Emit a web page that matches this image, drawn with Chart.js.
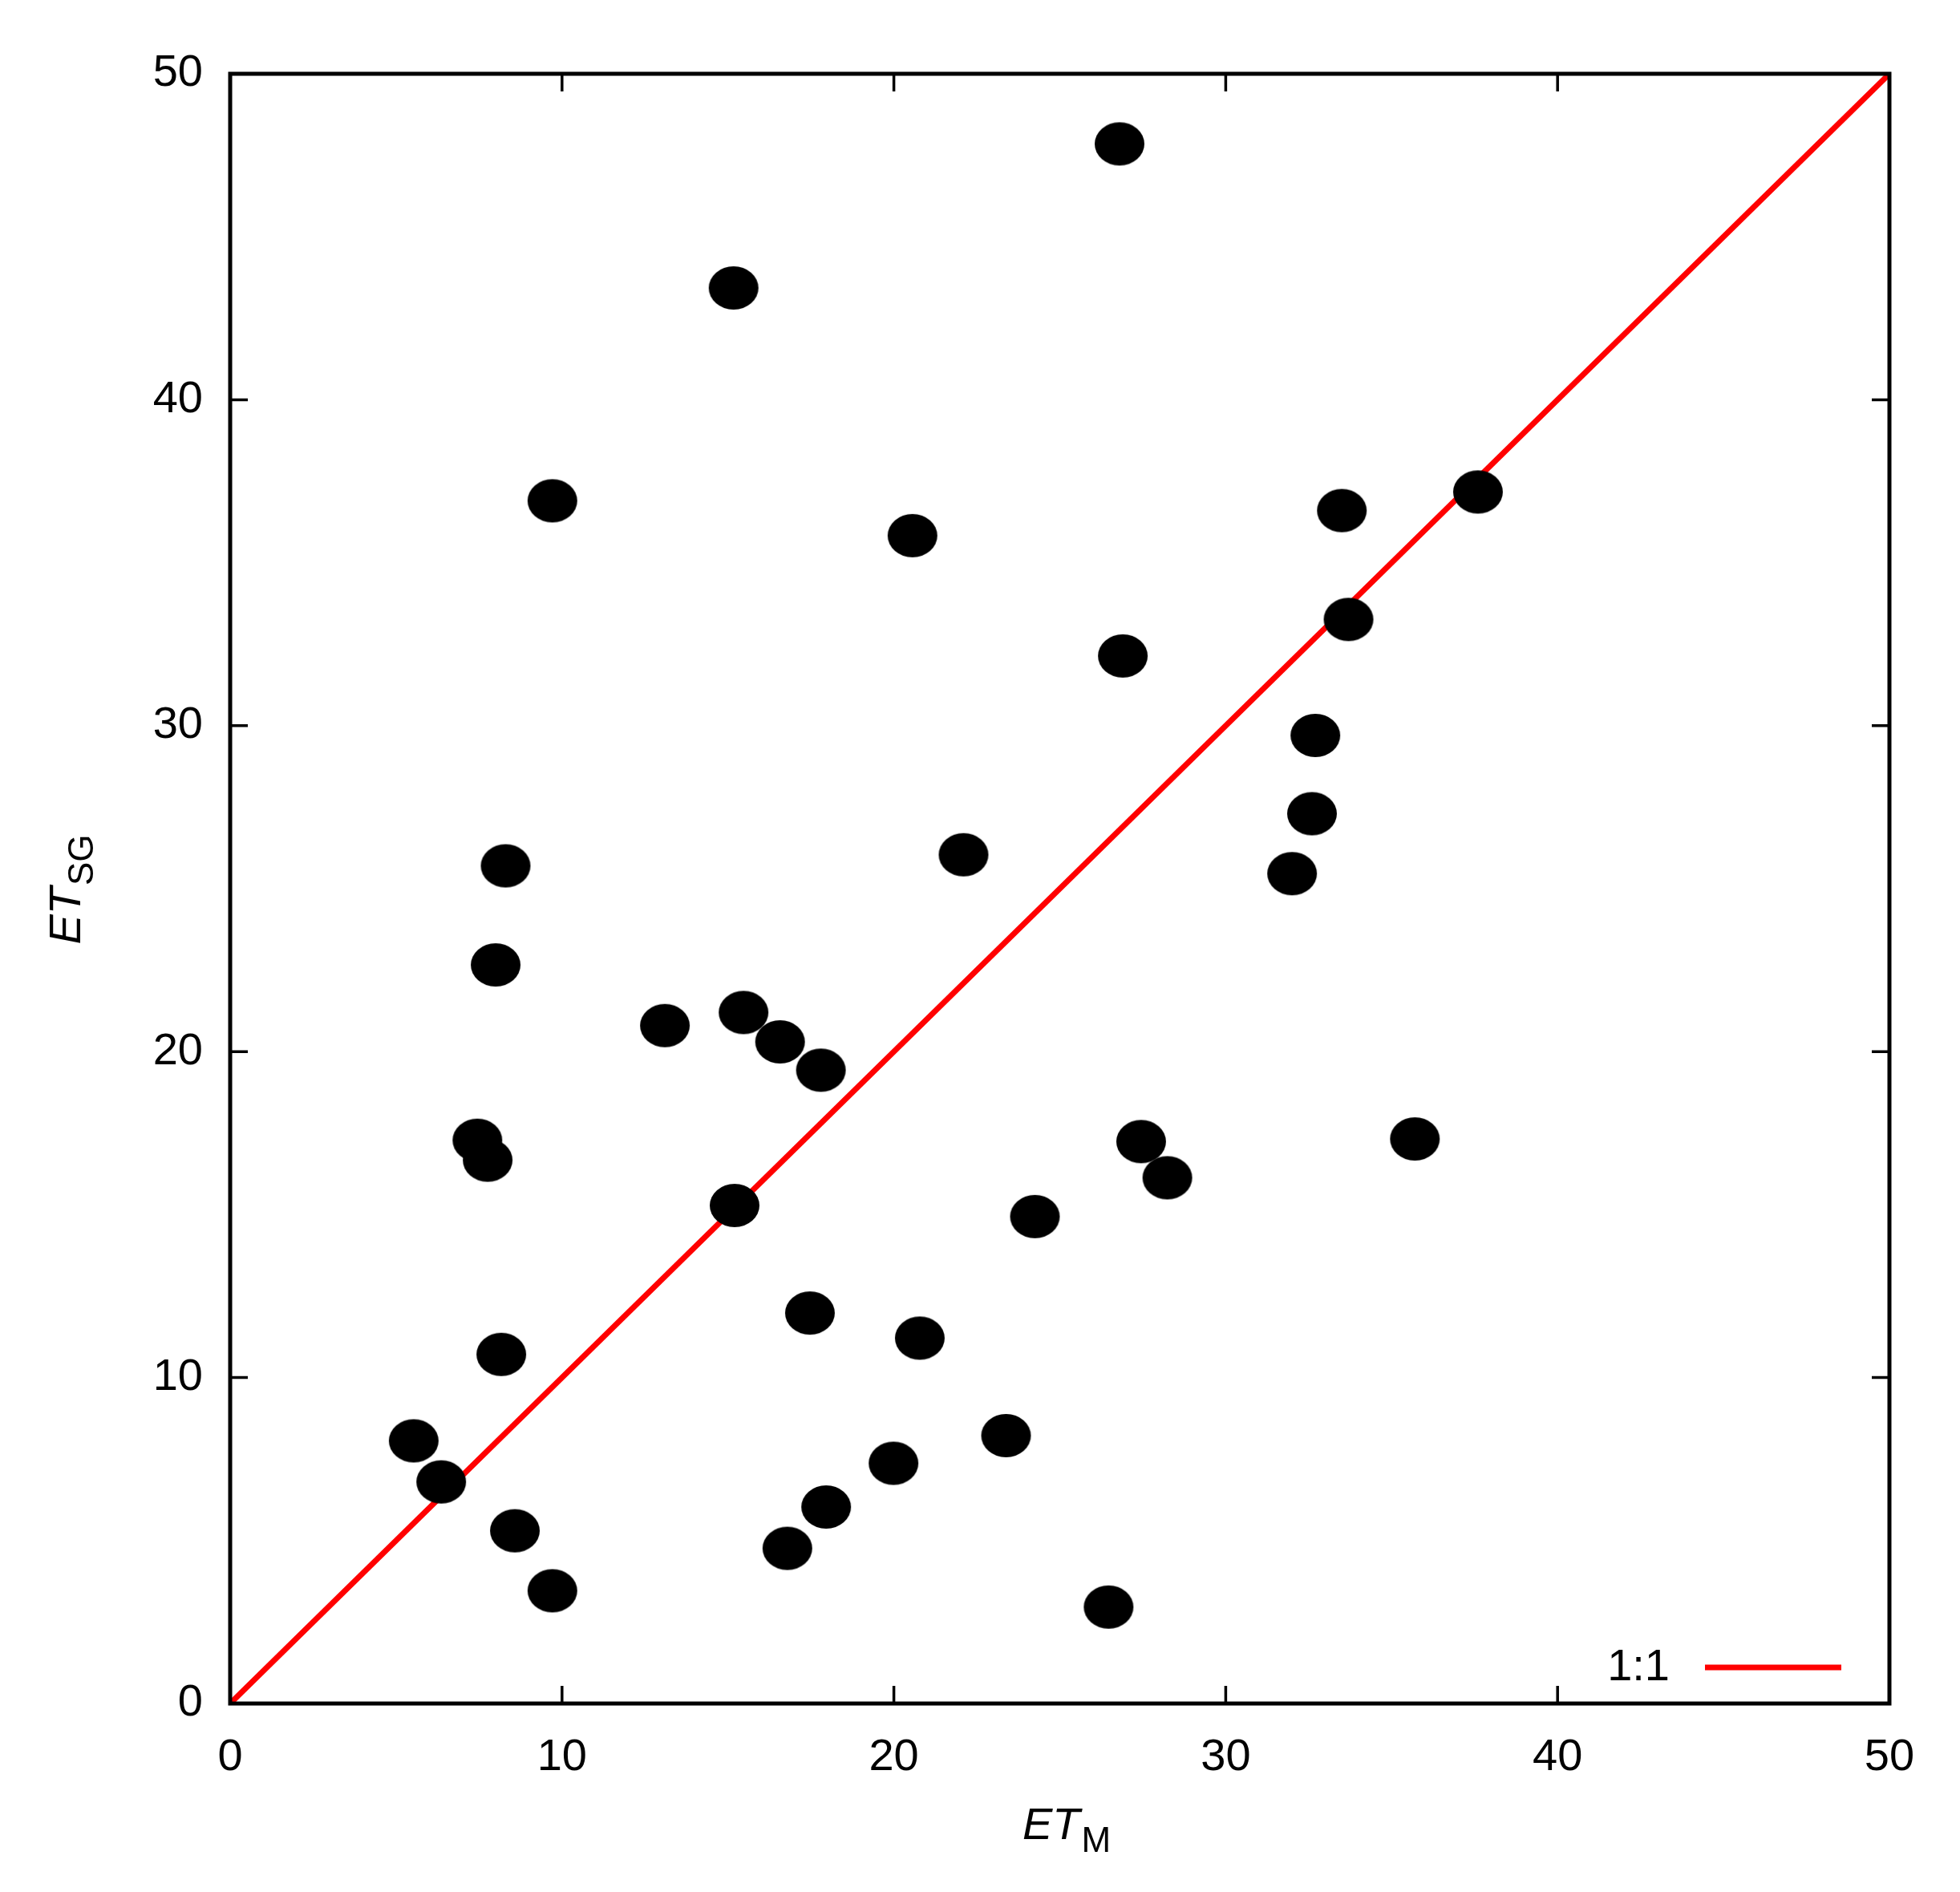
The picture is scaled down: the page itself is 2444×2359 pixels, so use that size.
<!DOCTYPE html>
<html><head><meta charset="utf-8">
<script src="https://cdn.jsdelivr.net/npm/chart.js@4"></script>
<style>html,body{margin:0;padding:0;background:#fff}canvas{display:block}</style>
</head><body>
<div style="width:2444px;height:2359px"><canvas id="c"></canvas></div>
<script>
const etM = [26.8,15.17,9.71,20.56,33.5,37.6,33.7,26.9,32.7,32.6,32.0,22.1,8.3,8.0,13.1,15.47,16.57,17.8,7.45,7.76,27.45,28.24,35.7,15.2,24.25,17.47,20.78,8.17,5.53,6.36,23.38,19.99,8.58,17.96,16.79,9.71,26.47];
const etSG = [47.85,43.43,36.9,35.83,36.6,37.17,33.26,32.14,29.7,27.3,25.46,26.04,25.7,22.66,20.8,21.2,20.3,19.43,17.28,16.67,17.24,16.13,17.32,15.28,14.94,11.98,11.21,10.71,8.06,6.8,8.22,7.37,5.3,6.03,4.76,3.46,2.96];
const lineX = [0,50];
const lineY = [0,50];
const ticks = [0,10,20,30,40,50];

const dot = document.createElement('canvas');
dot.width = 64; dot.height = 56;
{const g = dot.getContext('2d'); g.fillStyle='#000'; g.beginPath(); g.ellipse(32,28,31,27,0,0,Math.PI*2); g.fill();}

const FONT = '"Liberation Sans", Arial, sans-serif';
const deco = {
  id:'deco',
  afterDatasetsDraw(ch){
    const c = ch.ctx, a = ch.chartArea, xs = ch.scales.x, ys = ch.scales.y;
    c.save();
    c.strokeStyle='#000'; c.lineWidth=5;
    c.strokeRect(a.left,a.top,a.right-a.left,a.bottom-a.top);
    c.lineWidth=3.5;
    ticks.forEach(t=>{
      const px = xs.getPixelForValue(t), py = ys.getPixelForValue(t);
      c.beginPath();
      c.moveTo(px,a.bottom); c.lineTo(px,a.bottom-22);
      c.moveTo(px,a.top); c.lineTo(px,a.top+22);
      c.moveTo(a.left,py); c.lineTo(a.left+22,py);
      c.moveTo(a.right,py); c.lineTo(a.right-22,py);
      c.stroke();
    });
    c.fillStyle='#000'; c.font='56px '+FONT; c.textAlign='right'; c.textBaseline='middle';
    c.fillText('1:1',2082,2080);
    c.strokeStyle='#ff0000'; c.lineWidth=7;
    c.beginPath(); c.moveTo(2126,2079); c.lineTo(2296,2079); c.stroke();
    c.textBaseline='alphabetic'; c.textAlign='left';
    const drawTitle=(sub)=>{
      c.font='italic 56px '+FONT; const w1=c.measureText('ET').width;
      c.font='44px '+FONT; const w2=c.measureText(sub).width;
      const x0=-(w1+w2)/2;
      c.font='italic 56px '+FONT; c.fillText('ET',x0,0);
      c.font='44px '+FONT; c.fillText(sub,x0+w1+2,16);
    };
    c.save(); c.translate(1329,2293); drawTitle('M'); c.restore();
    c.save(); c.translate(100,1110); c.rotate(-Math.PI/2); drawTitle('SG'); c.restore();
    c.restore();
  }
};

new Chart(document.getElementById('c'),{
  type:'scatter',
  data:{datasets:[
    {type:'line',data:lineX.map((x,i)=>({x,y:lineY[i]})),borderColor:'#ff0000',borderWidth:7,pointRadius:0,order:2},
    {data:etM.map((x,i)=>({x,y:etSG[i]})),pointStyle:dot,pointRadius:28,order:1}
  ]},
  options:{
    responsive:true,maintainAspectRatio:false,animation:false,devicePixelRatio:1,
    layout:{padding:{left:0,top:92,right:88,bottom:0}},
    plugins:{legend:{display:false},tooltip:{enabled:false}},
    scales:{
      x:{type:'linear',min:0,max:50,afterFit:s=>{s.height=235;},
        grid:{drawOnChartArea:false,drawTicks:false},border:{display:false},
        ticks:{stepSize:10,padding:34,color:'#000',font:{size:56,family:FONT}}},
      y:{type:'linear',min:0,max:50,afterFit:s=>{s.width=287;},
        grid:{drawOnChartArea:false,drawTicks:false},border:{display:false},
        ticks:{stepSize:10,padding:34,color:'#000',font:{size:56,family:FONT}}}
    }
  },
  plugins:[deco]
});
</script>
</body></html>
